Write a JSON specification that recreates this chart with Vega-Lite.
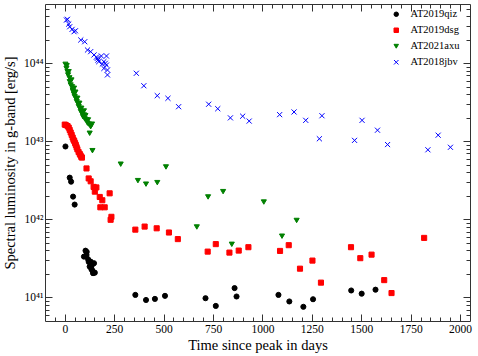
{
"$schema":"https://vega.github.io/schema/vega-lite/v6.json",
"width":425,"height":317,
"autosize":{"type":"none"},
"padding":{"left":45,"top":4,"right":8,"bottom":35},
"config":{"view":{"stroke":"#333","strokeWidth":1},"font":"Liberation Serif"},
"datasets":{"pts":[
{"series":"AT2019qiz","days":3.5,"lum":8.6e42},{"series":"AT2019qiz","days":25,"lum":3.43e42},{"series":"AT2019qiz","days":32,"lum":3.05e42},{"series":"AT2019qiz","days":42,"lum":1.96e42},{"series":"AT2019qiz","days":50,"lum":1.55e42},
{"series":"AT2019qiz","days":97,"lum":3.34e41},{"series":"AT2019qiz","days":105,"lum":3.98e41},{"series":"AT2019qiz","days":110,"lum":3.51e41},{"series":"AT2019qiz","days":111,"lum":3.84e41},{"series":"AT2019qiz","days":118,"lum":3.09e41},{"series":"AT2019qiz","days":121,"lum":2.86e41},{"series":"AT2019qiz","days":126,"lum":2.49e41},{"series":"AT2019qiz","days":131,"lum":2.88e41},{"series":"AT2019qiz","days":135,"lum":2.30e41},{"series":"AT2019qiz","days":136,"lum":2.55e41},{"series":"AT2019qiz","days":140,"lum":2.21e41},{"series":"AT2019qiz","days":143,"lum":2.05e41},{"series":"AT2019qiz","days":148,"lum":2.75e41},{"series":"AT2019qiz","days":152,"lum":2.08e41},
{"series":"AT2019qiz","days":357,"lum":1.08e41},{"series":"AT2019qiz","days":411,"lum":9.3e40},{"series":"AT2019qiz","days":456,"lum":9.6e40},{"series":"AT2019qiz","days":507,"lum":1.05e41},{"series":"AT2019qiz","days":712,"lum":9.8e40},{"series":"AT2019qiz","days":764,"lum":7.8e40},{"series":"AT2019qiz","days":859,"lum":1.32e41},{"series":"AT2019qiz","days":869,"lum":1.03e41},{"series":"AT2019qiz","days":1081,"lum":1.08e41},{"series":"AT2019qiz","days":1136,"lum":8.9e40},{"series":"AT2019qiz","days":1207,"lum":7.6e40},{"series":"AT2019qiz","days":1256,"lum":9.5e40},{"series":"AT2019qiz","days":1449,"lum":1.23e41},{"series":"AT2019qiz","days":1502,"lum":1.12e41},{"series":"AT2019qiz","days":1572,"lum":1.26e41},
{"series":"AT2019dsg","days":0,"lum":1.64e43},{"series":"AT2019dsg","days":5,"lum":1.62e43},{"series":"AT2019dsg","days":14,"lum":1.57e43},{"series":"AT2019dsg","days":20,"lum":1.5e43},{"series":"AT2019dsg","days":25,"lum":1.40e43},{"series":"AT2019dsg","days":30,"lum":1.3e43},{"series":"AT2019dsg","days":35,"lum":1.21e43},{"series":"AT2019dsg","days":40,"lum":1.12e43},{"series":"AT2019dsg","days":44,"lum":1.05e43},{"series":"AT2019dsg","days":48,"lum":1.01e43},{"series":"AT2019dsg","days":52,"lum":9.5e42},{"series":"AT2019dsg","days":56,"lum":9.0e42},{"series":"AT2019dsg","days":60,"lum":8.4e42},{"series":"AT2019dsg","days":64,"lum":7.9e42},{"series":"AT2019dsg","days":70,"lum":7.3e42},{"series":"AT2019dsg","days":76,"lum":6.9e42},{"series":"AT2019dsg","days":80,"lum":6.6e42},{"series":"AT2019dsg","days":84,"lum":6.3e42},{"series":"AT2019dsg","days":87,"lum":6.2e42},{"series":"AT2019dsg","days":110,"lum":4.5e42},{"series":"AT2019dsg","days":121,"lum":3.35e42},{"series":"AT2019dsg","days":131,"lum":3.08e42},{"series":"AT2019dsg","days":146,"lum":2.61e42},{"series":"AT2019dsg","days":152,"lum":2.27e42},{"series":"AT2019dsg","days":160,"lum":2.57e42},{"series":"AT2019dsg","days":177,"lum":1.94e42},{"series":"AT2019dsg","days":180,"lum":1.43e42},{"series":"AT2019dsg","days":190,"lum":1.76e42},{"series":"AT2019dsg","days":202,"lum":1.43e42},{"series":"AT2019dsg","days":227,"lum":2.16e42},{"series":"AT2019dsg","days":232,"lum":9.9e41},{"series":"AT2019dsg","days":236,"lum":1.08e42},
{"series":"AT2019dsg","days":357,"lum":7.4e41},{"series":"AT2019dsg","days":404,"lum":8.1e41},{"series":"AT2019dsg","days":465,"lum":7.7e41},{"series":"AT2019dsg","days":527,"lum":6.8e41},{"series":"AT2019dsg","days":572,"lum":5.6e41},{"series":"AT2019dsg","days":723,"lum":3.87e41},{"series":"AT2019dsg","days":764,"lum":4.83e41},{"series":"AT2019dsg","days":833,"lum":3.76e41},{"series":"AT2019dsg","days":880,"lum":3.99e41},{"series":"AT2019dsg","days":929,"lum":4.41e41},{"series":"AT2019dsg","days":1089,"lum":3.95e41},{"series":"AT2019dsg","days":1133,"lum":4.68e41},{"series":"AT2019dsg","days":1190,"lum":2.34e41},{"series":"AT2019dsg","days":1253,"lum":2.97e41},{"series":"AT2019dsg","days":1296,"lum":1.55e41},{"series":"AT2019dsg","days":1448,"lum":4.41e41},{"series":"AT2019dsg","days":1495,"lum":3.19e41},{"series":"AT2019dsg","days":1552,"lum":3.54e41},{"series":"AT2019dsg","days":1616,"lum":1.67e41},{"series":"AT2019dsg","days":1653,"lum":1.14e41},{"series":"AT2019dsg","days":1818,"lum":5.8e41},
{"series":"AT2021axu","days":3.5,"lum":9.7e43},{"series":"AT2021axu","days":8.6,"lum":8.6e43},{"series":"AT2021axu","days":10,"lum":9.3e43},{"series":"AT2021axu","days":13.6,"lum":7.8e43},{"series":"AT2021axu","days":16.7,"lum":7.08e43},{"series":"AT2021axu","days":20,"lum":7.8e43},{"series":"AT2021axu","days":23.7,"lum":6.5e43},{"series":"AT2021axu","days":25,"lum":5.8e43},{"series":"AT2021axu","days":30,"lum":5.27e43},{"series":"AT2021axu","days":34,"lum":6.1e43},{"series":"AT2021axu","days":37,"lum":5.0e43},{"series":"AT2021axu","days":40,"lum":4.55e43},{"series":"AT2021axu","days":42,"lum":4.33e43},{"series":"AT2021axu","days":47,"lum":4.0e43},{"series":"AT2021axu","days":47,"lum":4.79e43},{"series":"AT2021axu","days":50.5,"lum":3.73e43},{"series":"AT2021axu","days":54,"lum":4.26e43},{"series":"AT2021axu","days":57,"lum":3.56e43},{"series":"AT2021axu","days":60.6,"lum":3.22e43},{"series":"AT2021axu","days":64,"lum":3.56e43},{"series":"AT2021axu","days":67,"lum":3.07e43},{"series":"AT2021axu","days":70.7,"lum":2.78e43},{"series":"AT2021axu","days":74,"lum":3.07e43},{"series":"AT2021axu","days":77,"lum":2.65e43},{"series":"AT2021axu","days":81,"lum":2.40e43},{"series":"AT2021axu","days":84,"lum":2.65e43},{"series":"AT2021axu","days":87,"lum":2.29e43},{"series":"AT2021axu","days":92,"lum":2.07e43},{"series":"AT2021axu","days":97,"lum":2.45e43},{"series":"AT2021axu","days":97.5,"lum":2.18e43},{"series":"AT2021axu","days":101,"lum":1.94e43},{"series":"AT2021axu","days":104.5,"lum":2.13e43},{"series":"AT2021axu","days":110,"lum":1.88e43},{"series":"AT2021axu","days":115,"lum":1.71e43},{"series":"AT2021axu","days":118,"lum":1.88e43},{"series":"AT2021axu","days":123,"lum":1.66e43},{"series":"AT2021axu","days":126,"lum":1.27e43},{"series":"AT2021axu","days":131,"lum":1.54e43},{"series":"AT2021axu","days":138,"lum":1.66e43},
{"series":"AT2021axu","days":140,"lum":7.6e42},{"series":"AT2021axu","days":283,"lum":5.1e42},{"series":"AT2021axu","days":370,"lum":3.14e42},{"series":"AT2021axu","days":411,"lum":2.83e42},{"series":"AT2021axu","days":468,"lum":2.96e42},{"series":"AT2021axu","days":512,"lum":4.7e42},{"series":"AT2021axu","days":668,"lum":8.0e41},{"series":"AT2021axu","days":725,"lum":1.94e42},{"series":"AT2021axu","days":801,"lum":2.27e42},{"series":"AT2021axu","days":845,"lum":4.8e41},{"series":"AT2021axu","days":1007,"lum":1.67e42},{"series":"AT2021axu","days":1099,"lum":6.1e41},{"series":"AT2021axu","days":1173,"lum":9.7e41},
{"series":"AT2018jbv","days":8.6,"lum":3.58e44},{"series":"AT2018jbv","days":13.6,"lum":3.66e44},{"series":"AT2018jbv","days":20,"lum":3.18e44},{"series":"AT2018jbv","days":25,"lum":2.94e44},{"series":"AT2018jbv","days":37,"lum":2.72e44},{"series":"AT2018jbv","days":47,"lum":2.54e44},{"series":"AT2018jbv","days":54,"lum":2.61e44},{"series":"AT2018jbv","days":81,"lum":1.99e44},{"series":"AT2018jbv","days":101,"lum":1.89e44},{"series":"AT2018jbv","days":115,"lum":1.48e44},{"series":"AT2018jbv","days":131,"lum":1.41e44},{"series":"AT2018jbv","days":148,"lum":1.28e44},{"series":"AT2018jbv","days":160,"lum":1.2e44},{"series":"AT2018jbv","days":165,"lum":1.16e44},{"series":"AT2018jbv","days":168,"lum":1.10e44},{"series":"AT2018jbv","days":172,"lum":1.05e44},{"series":"AT2018jbv","days":185,"lum":1.24e44},{"series":"AT2018jbv","days":190,"lum":9.8e43},{"series":"AT2018jbv","days":198,"lum":1.05e44},{"series":"AT2018jbv","days":198,"lum":8.6e43},{"series":"AT2018jbv","days":205,"lum":1.0e44},{"series":"AT2018jbv","days":211,"lum":1.24e44},{"series":"AT2018jbv","days":211,"lum":9.5e43},{"series":"AT2018jbv","days":216,"lum":8.2e43},{"series":"AT2018jbv","days":216,"lum":7.1e43},
{"series":"AT2018jbv","days":362,"lum":7.45e43},{"series":"AT2018jbv","days":400,"lum":5.16e43},{"series":"AT2018jbv","days":468,"lum":3.85e43},{"series":"AT2018jbv","days":522,"lum":3.56e43},{"series":"AT2018jbv","days":576,"lum":2.78e43},{"series":"AT2018jbv","days":728,"lum":2.99e43},{"series":"AT2018jbv","days":774,"lum":2.62e43},{"series":"AT2018jbv","days":838,"lum":2.0e43},{"series":"AT2018jbv","days":900,"lum":2.10e43},{"series":"AT2018jbv","days":933,"lum":1.82e43},{"series":"AT2018jbv","days":1087,"lum":2.20e43},{"series":"AT2018jbv","days":1160,"lum":2.38e43},{"series":"AT2018jbv","days":1219,"lum":1.86e43},{"series":"AT2018jbv","days":1301,"lum":2.13e43},{"series":"AT2018jbv","days":1288,"lum":1.08e43},{"series":"AT2018jbv","days":1466,"lum":1.03e43},{"series":"AT2018jbv","days":1504,"lum":1.86e43},{"series":"AT2018jbv","days":1582,"lum":1.39e43},{"series":"AT2018jbv","days":1633,"lum":9.1e42},{"series":"AT2018jbv","days":1837,"lum":7.8e42},{"series":"AT2018jbv","days":1889,"lum":1.20e43},{"series":"AT2018jbv","days":1951,"lum":8.4e42}
]},
"data":{"name":"pts"},
"layer":[
{"mark":{"type":"point","filled":true,"size":26,"strokeWidth":1,"opacity":1},
 "encoding":{
  "x":{"field":"days","type":"quantitative","scale":{"domain":[-100,2050],"nice":false,"zero":false},
   "axis":{"orient":"bottom","values":[-50,0,50,100,150,200,250,300,350,400,450,500,550,600,650,700,750,800,850,900,950,1000,1050,1100,1150,1200,1250,1300,1350,1400,1450,1500,1550,1600,1650,1700,1750,1800,1850,1900,1950,2000],
    "format":"d","labelExpr":"datum.value % 250 == 0 && datum.value >= 0 ? datum.label : ''",
    "tickSize":{"condition":{"test":"datum.value % 250 == 0","value":-7},"value":-4},
    "tickColor":"#333","domain":false,"grid":false,"labelFontSize":11.5,"labelColor":"#000","labelFont":"Liberation Serif","labelPadding":9,"labelFlush":false,"labelOverlap":false,
    "title":"Time since peak in days","titleFontSize":14.5,"titleFont":"Liberation Serif","titleFontWeight":"normal","titleColor":"#000","titlePadding":1}},
  "y":{"field":"lum","type":"quantitative","scale":{"type":"log","domain":[5e40,5.75e44],"nice":false},
   "axis":{"orient":"left","values":[6e40,7e40,8e40,9e40,1e41,2e41,3e41,4e41,5e41,6e41,7e41,8e41,9e41,1e42,2e42,3e42,4e42,5e42,6e42,7e42,8e42,9e42,1e43,2e43,3e43,4e43,5e43,6e43,7e43,8e43,9e43,1e44,2e44,3e44,4e44,5e44],
    "labelExpr":"datum.value == 1e41 ? '10⁴¹' : datum.value == 1e42 ? '10⁴²' : datum.value == 1e43 ? '10⁴³' : datum.value == 1e44 ? '10⁴⁴' : ''",
    "tickSize":{"condition":{"test":"datum.value == 1e41 || datum.value == 1e42 || datum.value == 1e43 || datum.value == 1e44","value":-7},"value":-4},
    "tickColor":"#333","domain":false,"grid":false,"labelFontSize":11.5,"labelColor":"#000","labelFont":"Liberation Serif","labelPadding":9,"labelFlush":false,"labelOverlap":false,
    "title":"Spectral luminosity in g-band [erg/s]","titleFontSize":14.5,"titleFont":"Liberation Serif","titleFontWeight":"normal","titleColor":"#000","titlePadding":6}},
  "fill":{"field":"series","type":"nominal","scale":{"domain":["AT2019qiz","AT2019dsg","AT2021axu","AT2018jbv"],"range":["#000000","#ff0000","#008000","#0000ff"]},
   "legend":{"orient":"none","legendX":346,"legendY":5,"title":null,"labelFontSize":10.5,"labelFont":"Liberation Serif","labelColor":"#000","symbolSize":20,"rowPadding":5,"labelOffset":9,"padding":0,"symbolStrokeWidth":1}},
  "stroke":{"field":"series","type":"nominal","scale":{"domain":["AT2019qiz","AT2019dsg","AT2021axu","AT2018jbv"],"range":["#000000","#ff0000","#008000","#0000ff"]},
   "legend":{"orient":"none","legendX":346,"legendY":5,"title":null,"labelFontSize":10.5,"labelFont":"Liberation Serif","labelColor":"#000","symbolSize":20,"rowPadding":5,"labelOffset":9,"padding":0,"symbolStrokeWidth":1}},
  "shape":{"field":"series","type":"nominal","scale":{"domain":["AT2019qiz","AT2019dsg","AT2021axu","AT2018jbv"],"range":["circle","square","triangle-down","M-1,-1L1,1M-1,1L1,-1"]},
   "legend":{"orient":"none","legendX":346,"legendY":5,"title":null,"labelFontSize":10.5,"labelFont":"Liberation Serif","labelColor":"#000","symbolSize":20,"rowPadding":5,"labelOffset":9,"padding":0,"symbolStrokeWidth":1}}
 }},
{"mark":{"type":"point","opacity":0},
 "encoding":{
  "x":{"field":"days","type":"quantitative",
   "axis":{"orient":"top","values":[-50,0,50,100,150,200,250,300,350,400,450,500,550,600,650,700,750,800,850,900,950,1000,1050,1100,1150,1200,1250,1300,1350,1400,1450,1500,1550,1600,1650,1700,1750,1800,1850,1900,1950,2000],
    "labels":false,"title":null,"domain":false,"grid":false,"tickColor":"#333",
    "tickSize":{"condition":{"test":"datum.value % 250 == 0","value":-7},"value":-4}}},
  "y":{"field":"lum","type":"quantitative",
   "axis":{"orient":"right","values":[6e40,7e40,8e40,9e40,1e41,2e41,3e41,4e41,5e41,6e41,7e41,8e41,9e41,1e42,2e42,3e42,4e42,5e42,6e42,7e42,8e42,9e42,1e43,2e43,3e43,4e43,5e43,6e43,7e43,8e43,9e43,1e44,2e44,3e44,4e44,5e44],
    "labels":false,"title":null,"domain":false,"grid":false,"tickColor":"#333",
    "tickSize":{"condition":{"test":"datum.value == 1e41 || datum.value == 1e42 || datum.value == 1e43 || datum.value == 1e44","value":-7},"value":-4}}}
 }}
],
"resolve":{"axis":{"x":"independent","y":"independent"}}
}
